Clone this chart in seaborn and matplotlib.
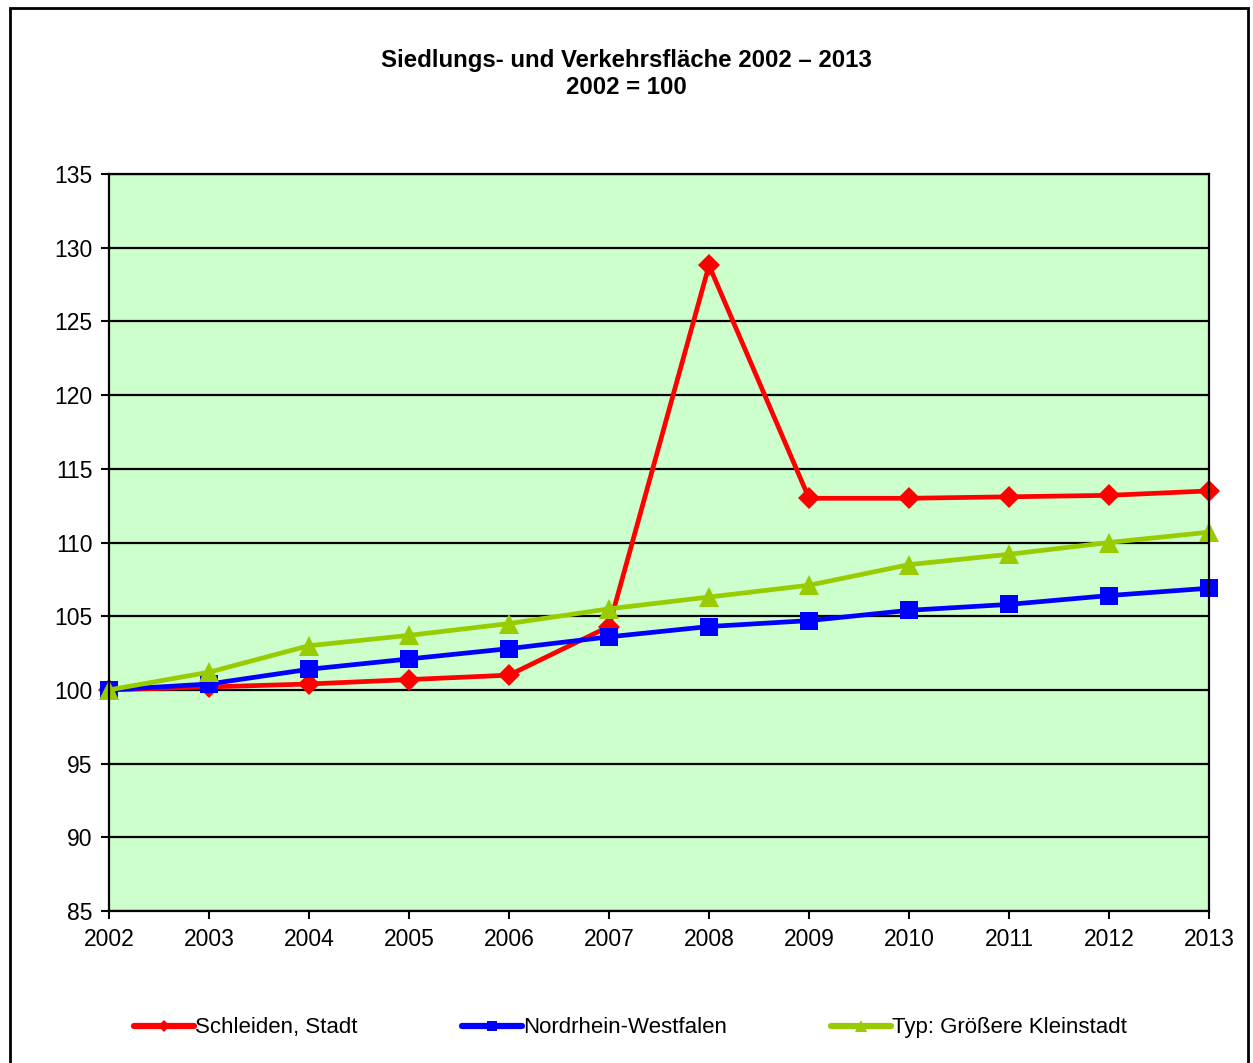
import matplotlib
matplotlib.use("Agg")
import matplotlib.pyplot as plt
import seaborn as sns
import pandas as pd

years = [2002, 2003, 2004, 2005, 2006, 2007, 2008, 2009, 2010, 2011, 2012, 2013]
schleiden = [100.0, 100.2, 100.4, 100.7, 101.0, 104.3, 128.8, 113.0, 113.0, 113.1, 113.2, 113.5]
nrw = [100.0, 100.4, 101.4, 102.1, 102.8, 103.6, 104.3, 104.7, 105.4, 105.8, 106.4, 106.9]
typ = [100.0, 101.2, 103.0, 103.7, 104.5, 105.5, 106.3, 107.1, 108.5, 109.2, 110.0, 110.7]
series_names = ["Schleiden, Stadt", "Nordrhein-Westfalen", "Typ: Größere Kleinstadt"]
colors = ["#FF0000", "#0000FF", "#99CC00"]
markers = ["D", "s", "^"]
yticks = [85, 90, 95, 100, 105, 110, 115, 120, 125, 130, 135]

rows = []
for name, vals in zip(series_names, [schleiden, nrw, typ]):
    for y, v in zip(years, vals):
        rows.append({"Jahr": y, "Wert": v, "Serie": name})
df = pd.DataFrame(rows)

sns.set_style("white")
plt.rcParams["font.family"] = ["Liberation Sans", "DejaVu Sans"]
for k in ["text.color", "xtick.color", "ytick.color", "axes.labelcolor"]:
    plt.rcParams[k] = "black"

fig = plt.figure(figsize=(12.53, 10.63), dpi=100)
ax = fig.add_axes([0.087, 0.143, 0.8779, 0.6933])
ax.set_facecolor("#CCFFCC")

sns.lineplot(data=df, x="Jahr", y="Wert", hue="Serie", style="Serie",
             hue_order=series_names, style_order=series_names,
             palette=colors, markers=markers, dashes=False,
             linewidth=3.4, markersize=12, markeredgewidth=0, ax=ax, legend=True)
for ln in ax.get_lines():
    ln.set_clip_on(False)
    if ln.get_marker() == "D":
        ln.set_markersize(11)
    elif ln.get_marker() == "s":
        ln.set_markersize(13)
    elif ln.get_marker() == "^":
        ln.set_markersize(14)

ax.set_xlim(2002, 2013)
ax.set_ylim(85, 135)
ax.set_xticks(years)
ax.set_xticklabels([str(y) for y in years], fontsize=16.5)
ax.set_yticks(yticks)
ax.set_yticklabels([str(t) for t in yticks], fontsize=16.5)
ax.set_xlabel("")
ax.set_ylabel("")
ax.yaxis.grid(True, color="black", linewidth=1.6)
ax.xaxis.grid(False)
ax.set_axisbelow(True)
for s in ax.spines.values():
    s.set_color("black")
    s.set_linewidth(1.6)
ax.tick_params(axis="y", which="both", left=True, length=6, width=1.5,
               color="black", direction="out", pad=6)
ax.tick_params(axis="x", which="both", bottom=True, length=6, width=1.5,
               color="black", direction="out", pad=6)

handles, labels = ax.get_legend_handles_labels()
for h in handles:
    h.set_linewidth(4.5)
ax.get_legend().remove()
fig.legend(handles, labels, loc="center", bbox_to_anchor=(0.503, 0.033), ncol=3,
           frameon=False, fontsize=16, columnspacing=4.7, handlelength=2.7,
           handletextpad=0.05, markerscale=0.6)

fig.text(0.5, 1 - 60 / 1063, "Siedlungs- und Verkehrsfläche 2002 – 2013",
         ha="center", va="center", fontsize=17.3, fontweight="bold")
fig.text(0.5, 1 - 87 / 1063, "2002 = 100",
         ha="center", va="center", fontsize=17.3, fontweight="bold")

border = plt.Rectangle((10 / 1253, -0.01), 1238 / 1253, 1 - 8 / 1063 + 0.01,
                       transform=fig.transFigure, fill=False, edgecolor="black",
                       linewidth=2)
fig.add_artist(border)

fig.savefig("out.png", dpi=100, facecolor="white")
